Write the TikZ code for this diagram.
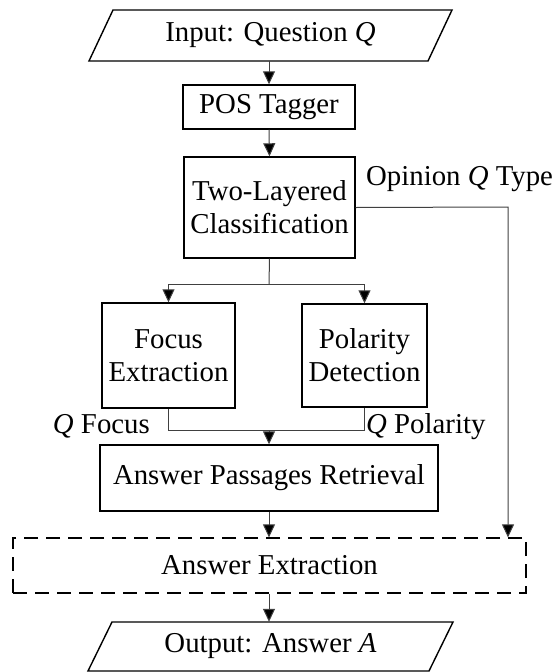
\documentclass[tikz,border=0pt]{standalone}
\usepackage{fontspec}
\setmainfont{Liberation Serif}
\usetikzlibrary{arrows.meta}
\begin{document}
\begin{tikzpicture}[x=1pt,y=-1pt,
  every node/.style={font=\fontsize{28.8}{33}\selectfont, inner sep=0pt},
  box/.style={draw, line width=1.4pt, align=center},
  dbox/.style={draw, line width=1.2pt, dash pattern=on 14pt off 8pt, align=center},
  conn/.style={line width=1pt, draw=black!75},
  arr/.style={conn, -{Triangle[length=13pt,width=12pt,fill=black]}},
  io/.style={line width=1.4pt}]
\useasboundingbox (0,0) rectangle (555,672);

% input / output parallelograms
\draw[io] (113,10) -- (452,10) -- (428,61) -- (89,61) -- cycle;
\node[minimum width=339pt, minimum height=51pt] (in) at (270.5,35.5) {Input: Question \textit{Q}};
\draw[io] (112,622) -- (453,622) -- (429,671) -- (88,671) -- cycle;
\node[minimum width=341pt, minimum height=49pt] (out) at (270.5,646.5) {Output: Answer \textit{A}};

% boxes
\node[box, minimum width=172pt, minimum height=44pt] (pos) at (269,107) {POS Tagger};
\node[box, minimum width=171pt, minimum height=101pt] (tl) at (269.5,207.5) {Two-Layered\\Classification};
\node[box, minimum width=133pt, minimum height=105pt] (fe) at (168.5,355.5) {Focus\\Extraction};
\node[box, minimum width=125pt, minimum height=103pt] (pd) at (364.5,355.5) {Polarity\\Detection};
\node[box, minimum width=338pt, minimum height=66pt] (apr) at (269,478) {Answer Passages Retrieval};
\node[dbox, minimum width=513pt, minimum height=55pt] (ae) at (269.5,565.5) {Answer Extraction};

% labels
\node[anchor=base west] (lop) at (366,185) {Opinion \textit{Q} Type};
\node[anchor=base east] (lfo) at (150,433) {\textit{Q} Focus};
\node[anchor=base west] (lpo) at (366,433) {\textit{Q} Polarity};

% connector coordinates
\coordinate (split) at (269,284);
\coordinate (join) at (269,430);
\coordinate (rt) at (508,207);

% connectors
\draw[arr] (in.south -| pos.north) -- (pos.north);
\draw[arr] (pos.south) -- (tl.north);
\draw[conn] (tl.south) -- (split);
\draw[arr] (split) -| (fe.north);
\draw[arr] (split) -| (pd.north);
\draw[arr] (tl.east) -- (rt) -- (rt |- ae.north);
\draw[conn] (fe.south) |- (join);
\draw[conn] (pd.south) |- (join);
\draw[arr] (join) -- (join |- apr.north);
\draw[arr] (apr.south) -- (apr.south |- ae.north);
\draw[arr] (ae.south -| apr.south) -- (apr.south |- out.north);
\end{tikzpicture}
\end{document}
